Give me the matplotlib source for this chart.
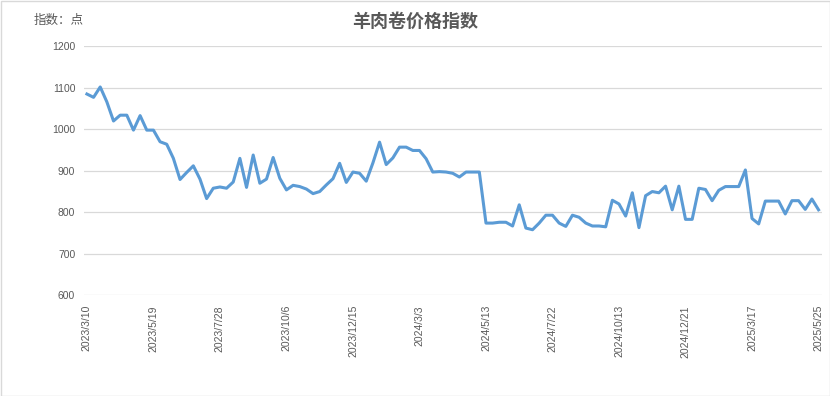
import numpy as np
import matplotlib
matplotlib.use('Agg')
import matplotlib.pyplot as plt
from matplotlib.patches import Rectangle

plt.rcParams['font.family'] = ['Noto Sans CJK SC', 'DejaVu Sans']

# weekly index values
index_values = [
    1085, 1077, 1102, 1066, 1020, 1034, 1034, 998, 1033, 998,
    998, 970, 964, 930, 879, 896, 912, 880, 833, 858,
    861, 858, 873, 930, 860, 938, 870, 880, 932, 882,
    854, 865, 862, 856, 845, 850, 866, 881, 918, 872,
    897, 894, 875, 919, 969, 915, 931, 957, 957, 949,
    949, 929, 897, 898, 897, 894, 885, 897, 897, 897,
    774, 774, 776, 776, 767, 818, 762, 758, 774, 793,
    793, 774, 766, 793, 788, 774, 767, 767, 765, 829,
    820, 791, 847, 763, 840, 850, 847, 863, 806, 863,
    783, 783, 858, 855, 828, 853, 862, 862, 862, 902,
    785, 772, 827, 827, 827, 796, 828, 828, 807, 832,
    806,
]
tick_labels = ['2023/3/10', '2023/5/19', '2023/7/28', '2023/10/6', '2023/12/15',
               '2024/3/3', '2024/5/13', '2024/7/22', '2024/10/13', '2024/12/21',
               '2025/3/17', '2025/5/25']
tick_step = 10
y_ticks = [600, 700, 800, 900, 1000, 1100, 1200]

title = '羊肉卷价格指数'
unit = '指数：点'

text_color = '#595959'
grid_color = '#d9d9d9'
line_color = '#5b9bd5'

fig = plt.figure(figsize=(8.3, 3.96), dpi=100)
fig.patch.set_facecolor('white')
# thin grey frame round the whole chart
fig.patches.append(Rectangle((0.5 / 830, 0.5 / 396), 829 / 830, 395 / 396,
                             transform=fig.transFigure, fill=False,
                             edgecolor=grid_color, linewidth=1.0))

ax = fig.add_axes([0.1007, 0.2543, 0.8895, 0.6288])
x = np.arange(len(index_values))
ax.plot(x, index_values, color=line_color, linewidth=2.2, solid_joinstyle='round', zorder=3)

ax.set_xlim(-0.5, len(index_values) - 0.5)
ax.set_ylim(600, 1200)
ax.set_yticks(y_ticks)
ax.set_yticklabels([str(v) for v in y_ticks], fontsize=7.5, color=text_color,
                   family=['Liberation Sans', 'DejaVu Sans'])
ax.set_xticks(np.arange(0, len(index_values), tick_step))
ax.set_xticklabels(tick_labels, rotation=90, fontsize=7.5, color=text_color,
                   family=['Liberation Sans', 'DejaVu Sans'], va='top', ha='center')
ax.tick_params(axis='both', length=0)
ax.tick_params(axis='x', pad=7)
ax.tick_params(axis='y', pad=6)

ax.grid(axis='y', color=grid_color, linewidth=0.9)
ax.set_axisbelow(True)
for s in ax.spines.values():
    s.set_visible(False)

fig.text(0.5, 0.945, title, ha='center', va='center', fontsize=13,
         fontweight='bold', color=text_color)
fig.text(0.041, 0.948, unit, ha='left', va='center', fontsize=9, color=text_color)

fig.savefig('out.png', dpi=100)
